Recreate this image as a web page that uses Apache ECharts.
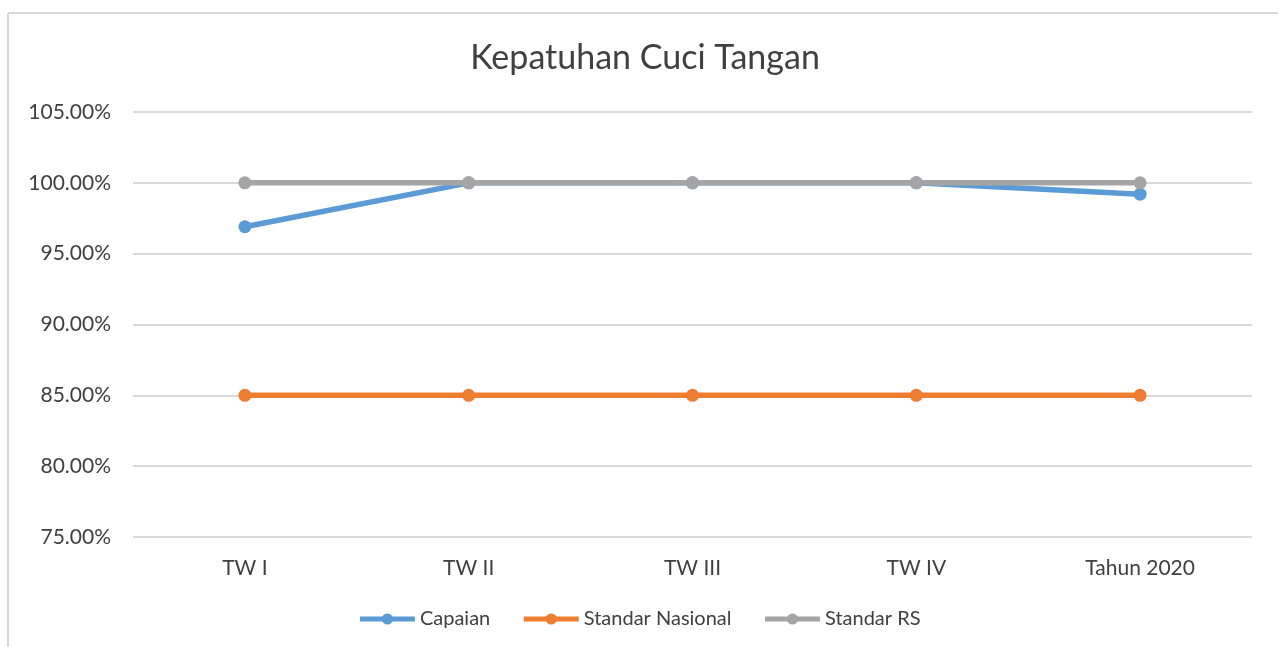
<!DOCTYPE html>
<html>
<head>
<meta charset="utf-8">
<script src="https://cdn.jsdelivr.net/npm/echarts@6/dist/echarts.min.js"></script>
<style>
  html, body { margin: 0; padding: 0; background: #fff; }
  #chart { width: 1278px; height: 647px; }
</style>
</head>
<body>
<div id="chart"></div>
<script>
// data
var categories = ['TW I', 'TW II', 'TW III', 'TW IV', 'Tahun 2020'];
var capaian = [96.9, 100, 100, 100, 99.2];
var standarNasional = [85, 85, 85, 85, 85];
var standarRS = [100, 100, 100, 100, 100];

var fontName = 'Lato, "Open Sans", sans-serif';

function lineSeries(name, data, color) {
    return {
        name: name,
        type: 'line',
        data: data,
        symbol: 'circle',
        symbolSize: 13,
        lineStyle: { width: 5.5, color: color },
        itemStyle: { color: color },
        emphasis: { disabled: true }
    };
}

var chart = echarts.init(document.getElementById('chart'));
chart.setOption({
    animation: false,
    backgroundColor: '#fff',
    title: {
        text: 'Kepatuhan Cuci Tangan',
        left: 640,
        top: 36,
        textAlign: 'center',
        textStyle: { fontFamily: fontName, fontSize: 34, fontWeight: 'normal', color: '#404040' }
    },
    legend: {
        bottom: 13,
        left: 'center',
        itemWidth: 55,
        itemHeight: 14,
        itemGap: 31,
        lineStyle: { width: 5 },
        textStyle: { fontFamily: fontName, fontSize: 20, color: '#404040' },
        data: ['Capaian', 'Standar Nasional', 'Standar RS']
    },
    grid: { left: 133, right: 26, top: 112, bottom: 110 },
    xAxis: {
        type: 'category',
        data: categories,
        boundaryGap: true,
        axisLine: { show: false },
        axisTick: { show: false },
        axisLabel: { fontFamily: fontName, fontSize: 21, color: '#404040', margin: 21 }
    },
    yAxis: {
        type: 'value',
        min: 75,
        max: 105,
        interval: 5,
        axisLine: { show: false },
        axisTick: { show: false },
        splitLine: { lineStyle: { color: '#d9d9d9', width: 2 } },
        axisLabel: {
            fontFamily: fontName, fontSize: 21, color: '#404040', margin: 22,
            formatter: function (v) { return v.toFixed(2) + '%'; }
        }
    },
    graphic: [
        { type: 'line', shape: { x1: 8, y1: 13, x2: 1278, y2: 13 }, style: { stroke: '#d9d9d9', lineWidth: 2 } },
        { type: 'line', shape: { x1: 8, y1: 13, x2: 8, y2: 647 }, style: { stroke: '#d9d9d9', lineWidth: 2 } }
    ],
    series: [
        lineSeries('Capaian', capaian, '#5b9bd5'),
        lineSeries('Standar Nasional', standarNasional, '#ed7d31'),
        lineSeries('Standar RS', standarRS, '#a5a5a5')
    ]
});
</script>
</body>
</html>
